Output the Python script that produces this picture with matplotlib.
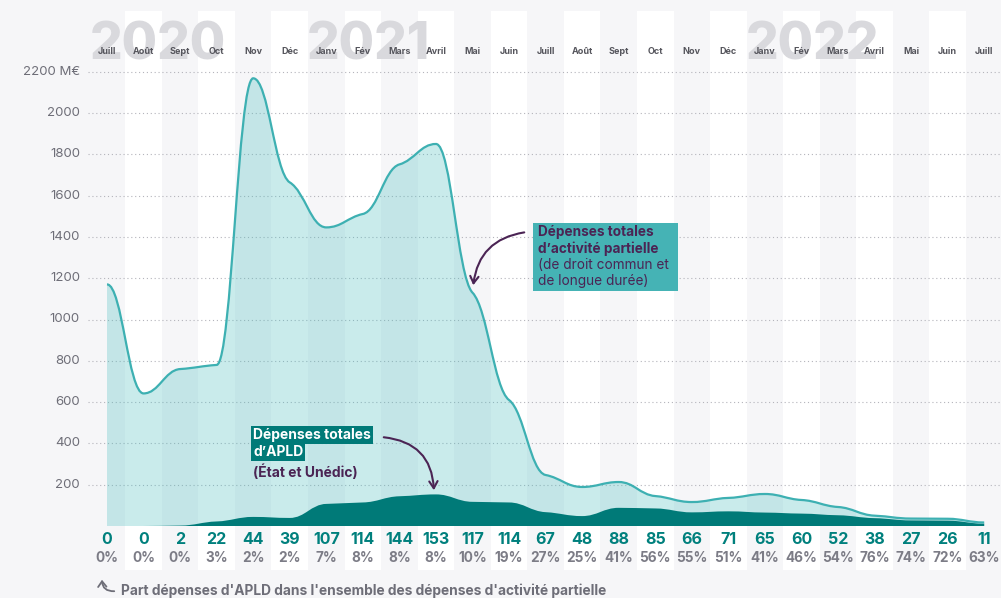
import numpy as np
import matplotlib.pyplot as plt
from matplotlib.path import Path
from matplotlib.patches import PathPatch, FancyArrowPatch, Rectangle

plt.rcParams['font.family'] = ['Inter', 'DejaVu Sans']

# DONNÉES (M€ par mois, juillet 2020 -> juillet 2022)
mois = ["Juill", "Août", "Sept", "Oct", "Nov", "Déc", "Janv", "Fév", "Mars", "Avril", "Mai", "Juin",
        "Juill", "Août", "Sept", "Oct", "Nov", "Déc", "Janv", "Fév", "Mars", "Avril", "Mai", "Juin", "Juill"]
depenses_ap = [1170, 642, 760, 780, 2168, 1664, 1446, 1511, 1751, 1850, 1130, 610,
               247, 189, 213, 145, 116, 136, 155, 126, 92, 50, 36, 35, 17]
depenses_apld = [0, 0, 2, 22, 44, 39, 107, 114, 144, 153, 117, 114,
                 67, 48, 88, 85, 66, 71, 65, 60, 52, 38, 27, 26, 11]
part_apld = ["0%", "0%", "0%", "3%", "2%", "2%", "7%", "8%", "8%", "8%", "10%", "19%",
             "27%", "25%", "41%", "56%", "55%", "51%", "41%", "46%", "54%", "76%", "74%", "72%", "63%"]
annees = ["2020", "2021", "2022"]
pos_annees = [1.4, 7.15, 19.3]
yticks = [200, 400, 600, 800, 1000, 1200, 1400, 1600, 1800, 2000, 2200]

# COULEURS
fond = "#f6f6f8"
teal_clair = "#4dbfc0"
teal_ligne = "#3db0b2"
teal_fonce = "#007a78"
violet = "#4b2454"
gris = "#6e6e78"

# ÉCHELLE : 1 mois = 36.55 px, 200 M€ = 41.3 px, origine en (107, 526)
W, H = 1001, 598
dx, dy = 36.55, 41.3 / 200
x0, y0 = 107, 526


def px(x, y):
    # pixel (origine en haut à gauche) -> coordonnées des données
    return (x - x0) / dx, (y0 - y) / dy


def courbe(x, y, a=0.42, f=0.3):
    # courbe lissée en segments de Bézier : tangentes monotones atténuées (f),
    # points de contrôle à a * largeur du segment
    x = np.asarray(x, float)
    y = np.asarray(y, float)
    h = np.diff(x)
    s = np.diff(y) / h
    t = np.zeros_like(y)
    for k in range(1, len(y) - 1):
        p = (s[k - 1] * h[k] + s[k] * h[k - 1]) / (h[k - 1] + h[k])
        t[k] = (np.sign(s[k - 1]) + np.sign(s[k])) * min(abs(s[k - 1]), abs(s[k]), 0.5 * abs(p))
    t *= f
    verts = [(x[0], y[0])]
    codes = [Path.MOVETO]
    for k in range(len(x) - 1):
        d = h[k] * a
        verts += [(x[k] + d, y[k] + d * t[k]), (x[k + 1] - d, y[k + 1] - d * t[k + 1]), (x[k + 1], y[k + 1])]
        codes += [Path.CURVE4] * 3
    return verts, codes


def aire(x, y):
    verts, codes = courbe(x, y)
    verts = verts + [(x[-1], 0), (x[0], 0), (x[0], y[0])]
    codes = codes + [Path.LINETO, Path.LINETO, Path.CLOSEPOLY]
    return Path(verts, codes)


fig = plt.figure(figsize=(W / 100, H / 100), dpi=100, facecolor=fond)
ax = fig.add_axes([0, 0, 1, 1])
ax.set_facecolor(fond)
ax.set_xlim(px(0, 0)[0], px(W, 0)[0])
ax.set_ylim(px(0, H)[1], px(0, 0)[1])
ax.axis("off")

x = np.arange(len(mois))

# Colonnes blanches un mois sur deux
for i in x[1::2]:
    ax.axvspan(i - 0.5, i + 0.5, ymin=(H - 570) / H, ymax=(H - 11) / H, color="white", lw=0, zorder=0)

# Années en fond
for a, p in zip(annees, pos_annees):
    ax.text(p, px(0, 46)[1], a, ha="center", va="center", fontsize=37, fontweight="heavy",
            color="#d9d9dd", zorder=1)

# Mois
for i, m in enumerate(mois):
    ax.text(i, px(0, 52)[1], m, ha="center", va="center", fontsize=6.5, fontweight="bold",
            color="#55555c", zorder=2)

# Grille et axe y
ax.hlines(yticks, px(88, 0)[0], px(W, 0)[0], colors="#b4b4bb", lw=0.8, linestyles=(0, (1, 2.5)), zorder=1)
for v in yticks:
    lab = f"{v} M€" if v == yticks[-1] else str(v)
    ax.text(px(80, 0)[0], v, lab, ha="right", va="center", fontsize=9.5, color=gris)

# Aires
ax.add_patch(PathPatch(aire(x, depenses_ap), fc=teal_clair, alpha=0.3, lw=0, zorder=3))
v, c = courbe(x, depenses_ap)
ax.add_patch(PathPatch(Path(v, c), fill=False, ec=teal_ligne, lw=1.6, zorder=5))
ax.add_patch(PathPatch(aire(x, depenses_apld), fc=teal_fonce, lw=0, zorder=4))

# Valeurs APLD et part en bas
for i in x:
    ax.text(i, px(0, 540)[1], str(depenses_apld[i]), ha="center", va="center", fontsize=11.5,
            fontweight="bold", color="#00807d", zorder=6)
    ax.text(i, px(0, 558)[1], part_apld[i], ha="center", va="center", fontsize=9.8,
            fontweight="bold", color="#7c7c86", zorder=6)

# Annotation : dépenses totales d'activité partielle
bx, by = px(533, 291)
bx2, by2 = px(678, 223)
ax.add_patch(Rectangle((bx, by), bx2 - bx, by2 - by, fc="#45b3b5", lw=0, zorder=7))
lignes = [("Dépenses totales", "bold"), ("d’activité partielle", "bold"),
          ("(de droit commun et", "normal"), ("de longue durée)", "normal")]
for k, (t, w) in enumerate(lignes):
    ax.text(*px(538, 232 + 16.5 * k), t, ha="left", va="center", fontsize=9.8, fontweight=w,
            color=violet, zorder=8)
ax.add_patch(FancyArrowPatch(px(527, 232), px(473, 288), connectionstyle="arc3,rad=0.4",
                             arrowstyle="->,head_length=5,head_width=3", color=violet, lw=1.5,
                             zorder=8))

# Annotation : dépenses d'APLD
for k, t in enumerate(["Dépenses totales", "d’APLD"]):
    ax.text(*px(253, 435 + 17 * k), t, ha="left", va="center", fontsize=10, fontweight="bold",
            color="white", zorder=8,
            bbox=dict(boxstyle="square,pad=0.15", fc=teal_fonce, ec="none"))
ax.text(*px(253, 472), "(État et Unédic)", ha="left", va="center", fontsize=10, fontweight="bold",
        color=violet, zorder=9)
ax.add_patch(FancyArrowPatch(px(381, 437), px(434, 493), connectionstyle="arc3,rad=-0.45",
                             arrowstyle="->,head_length=5,head_width=3", color=violet, lw=1.5,
                             zorder=8))

# Légende du bas
ax.add_patch(FancyArrowPatch(px(117, 591), px(102, 577), connectionstyle="arc3,rad=-0.6",
                             arrowstyle="->,head_length=4,head_width=3", color=gris, lw=1.3,
                             zorder=8))
ax.text(*px(121, 591), "Part dépenses d'APLD dans l'ensemble des dépenses d'activité partielle",
        ha="left", va="center", fontsize=9.9, fontweight="bold", color=gris)

plt.savefig("out.png", dpi=100, facecolor=fond)
